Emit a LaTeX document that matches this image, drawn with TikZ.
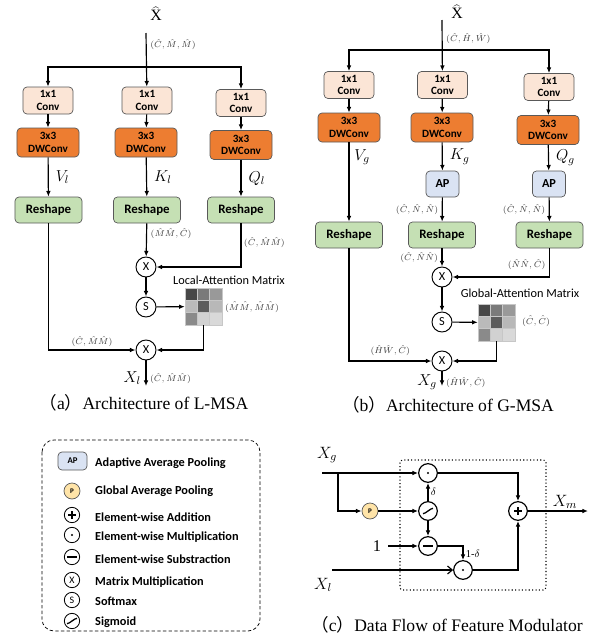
\RequirePackage{fix-cm}
\documentclass[tikz,border=0pt]{standalone}
\usepackage{fontspec}
\setmainfont{Liberation Serif}
\newfontfamily\boxfont{Carlito}
\newfontfamily\cjkfont{Noto Sans CJK SC}
\usetikzlibrary{arrows.meta}

\definecolor{convfill}{HTML}{FBE5D6}
\definecolor{dwfill}{HTML}{ED7D31}
\definecolor{reshapefill}{HTML}{C5E0B4}
\definecolor{apfill}{HTML}{DAE3F3}
\definecolor{poolfill}{HTML}{FFE4A8}
\definecolor{boxline}{HTML}{595959}
\definecolor{dimtext}{HTML}{3C3C3C}

\begin{document}
\begin{tikzpicture}[
    x=0.3mm, y=-0.3mm,
    >={Latex[length=1.7mm,width=1.4mm]},
    conv/.style={rectangle, rounded corners=1.2mm, draw=boxline, line width=0.6pt, fill=convfill, align=center, inner sep=0pt, minimum width=15mm, minimum height=8.1mm, font=\boxfont\bfseries\fontsize{9.5}{10.5}\selectfont},
    dwconv/.style={conv, fill=dwfill, minimum width=18.6mm, minimum height=8.7mm},
    reshape/.style={conv, fill=reshapefill, minimum width=20.1mm, minimum height=7.8mm, font=\boxfont\bfseries\fontsize{11}{12}\selectfont},
    apbox/.style={conv, fill=apfill, minimum width=9.9mm, minimum height=7.8mm, font=\boxfont\bfseries\fontsize{10.5}{12}\selectfont},
    op/.style={circle, draw, line width=0.8pt, fill=white, minimum size=6mm, inner sep=0pt, font=\boxfont\fontsize{10.5}{12}\selectfont},
    legop/.style={op, minimum size=4.6mm, line width=0.7pt, font=\boxfont\fontsize{8.5}{9}\selectfont},
    cop/.style={op, minimum size=5.6mm, line width=1pt},
    pool/.style={op, minimum size=4.8mm, line width=0.6pt, draw=boxline, fill=poolfill, font=\boxfont\bfseries\fontsize{6}{7}\selectfont},
    plusop/.style={path picture={\draw[black, line width=1pt] ([xshift=-1.2mm]path picture bounding box.center) -- ([xshift=1.2mm]path picture bounding box.center) ([yshift=-1.2mm]path picture bounding box.center) -- ([yshift=1.2mm]path picture bounding box.center);}},
    minusop/.style={path picture={\draw[black, line width=1pt] ([xshift=-1.5mm]path picture bounding box.center) -- ([xshift=1.5mm]path picture bounding box.center);}},
    dotop/.style={path picture={\fill[black] (path picture bounding box.center) circle (0.35mm);}},
    sigop/.style={path picture={\draw[black, line width=1.1pt] ([shift={(-1.5mm,-0.8mm)}]path picture bounding box.center) .. controls +(0.8mm,0) and +(-0.8mm,0) .. ([shift={(1.5mm,0.8mm)}]path picture bounding box.center);}},
    dim/.style={text=dimtext, font=\fontsize{7.4}{9}\selectfont, inner sep=1pt},
    qkv/.style={font=\fontsize{13.5}{15}\selectfont, inner sep=1pt},
    small/.style={font=\fontsize{9}{10}\selectfont, inner sep=1pt},
    mtitle/.style={font=\boxfont\fontsize{10.5}{12}\selectfont},
    legtext/.style={anchor=west, inner sep=0pt, font=\boxfont\bfseries\fontsize{10.5}{12}\selectfont},
    title/.style={font=\fontsize{15}{18}\selectfont},
    flow/.style={draw, line width=1pt, ->},
    wire/.style={draw, line width=1pt}
]
\useasboundingbox (0,0) rectangle (597,636);

% ---------- (a) L-MSA ----------
\node[font=\fontsize{13.5}{15}\selectfont] (xa) at (156,14) {$\widehat{\mathrm{X}}$};
\coordinate (ina) at (146,33);
\coordinate (sa) at (146,67);
\node[conv] (c1a) at (48,100.5) {1x1\\Conv};
\node[conv] (c2a) at (147,100.5) {1x1\\Conv};
\node[conv] (c3a) at (241,103) {1x1\\Conv};
\node[dwconv] (d1a) at (48,142.5) {3x3\\DWConv};
\node[dwconv] (d2a) at (146,142.5) {3x3\\DWConv};
\node[dwconv] (d3a) at (241,145) {3x3\\DWConv};
\node[reshape] (r1a) at (48.5,210) {Reshape};
\node[reshape] (r2a) at (147,210) {Reshape};
\node[reshape] (r3a) at (241,210) {Reshape};
\node[op] (mma) at (146,267) {X};
\node[op] (sma) at (146,307) {S};
\node[op] (oa) at (146,350) {X};
\coordinate (outa) at (146,386);
% attention matrix
\foreach \r/\c/\g in {0/0/72,0/1/52,0/2/40,1/0/27,1/1/64,1/2/28,2/0/46,2/1/18,2/2/15}
    \filldraw[fill=black!\g, draw=black!22, line width=0.4pt] (185+\c*12.33,288+\r*12.33) rectangle ++(12.33,12.33);
\node[minimum size=11.1mm, inner sep=0pt] (ga) at (203.5,306.5) {};
\node[mtitle] at (229,280) {Local-Attention Matrix};
\node[dim] at (252,307) {$(\hat{M}\hat{M},\hat{M}\hat{M})$};

\draw[flow] (ina) -- node[pos=0.22, right=2pt, dim] {$(\hat{C},\hat{M},\hat{M})$} (c2a);
\draw[flow] (sa) -| (c1a);
\draw[flow] (sa) -| (c3a);
\draw[flow] (c1a) -- (d1a);
\draw[flow] (c2a) -- (d2a);
\draw[flow] (c3a) -- (d3a);
\draw[flow] (d1a) -- node[right=5pt, qkv] {$V_l$} (r1a);
\draw[flow] (d2a) -- node[right=5pt, qkv] {$K_l$} (r2a);
\draw[flow] (d3a) -- node[right=5pt, qkv] {$Q_l$} (r3a);
\draw[flow] (r2a) -- node[pos=0.3, right=2pt, dim] {$(\hat{M}\hat{M},\hat{C})$} (mma);
\draw[flow] (r3a) |- node[pos=0.22, right=1pt, dim] {$(\hat{C},\hat{M}\hat{M})$} (mma);
\draw[flow] (mma) -- (sma);
\draw[flow] (sma) -- (ga);
\draw[flow] (r1a) |- node[pos=0.75, above=1pt, dim] {$(\hat{C},\hat{M}\hat{M})$} (oa);
\draw[flow] (ga) |- (oa);
\draw[flow] (oa) -- node[pos=0.7, left=3pt, qkv] {$X_l$} node[pos=0.7, right=2pt, dim] {$(\hat{C},\hat{M}\hat{M})$} (outa);
\node[title] at (144,403) {{\cjkfont （}a{\cjkfont ）}Architecture of L-MSA};

% ---------- (b) G-MSA ----------
\node[font=\fontsize{13.5}{15}\selectfont] (xb) at (457,12) {$\widehat{\mathrm{X}}$};
\coordinate (inb) at (442,20);
\coordinate (sb) at (442,50);
\node[conv] (c1b) at (349,85) {1x1\\Conv};
\node[conv] (c2b) at (442.5,85) {1x1\\Conv};
\node[conv] (c3b) at (549,87) {1x1\\Conv};
\node[dwconv] (d1b) at (349,127.5) {3x3\\DWConv};
\node[dwconv] (d2b) at (442,127.5) {3x3\\DWConv};
\node[dwconv] (d3b) at (548,130) {3x3\\DWConv};
\node[apbox] (ap2b) at (442.5,184) {AP};
\node[apbox] (ap3b) at (549,184) {AP};
\node[reshape] (r1b) at (349,235) {Reshape};
\node[reshape] (r2b) at (442,235) {Reshape};
\node[reshape] (r3b) at (549.5,235) {Reshape};
\node[op] (mmb) at (442,277) {X};
\node[op] (smb) at (442,322) {S};
\node[op] (ob) at (442,361) {X};
\coordinate (outb) at (442,386);
% attention matrix
\foreach \r/\c/\g in {0/0/72,0/1/52,0/2/40,1/0/27,1/1/64,1/2/28,2/0/46,2/1/18,2/2/15}
    \filldraw[fill=black!\g, draw=black!22, line width=0.4pt] (478+\c*12.33,304+\r*12.33) rectangle ++(12.33,12.33);
\node[minimum size=11.1mm, inner sep=0pt] (gb) at (496.5,322.5) {};
\node[mtitle] at (520,293) {Global-Attention Matrix};
\node[dim] at (536,321) {$(\hat{C},\hat{C})$};

\draw[flow] (inb) -- node[pos=0.37, right=2pt, dim] {$(\hat{C},\hat{H},\hat{W})$} (c2b);
\draw[flow] (sb) -| (c1b);
\draw[flow] (sb) -| (c3b);
\draw[flow] (c1b) -- (d1b);
\draw[flow] (c2b) -- (d2b);
\draw[flow] (c3b) -- (d3b);
\draw[flow] (d1b) -- (r1b);
\node[qkv] at (362,157) {$V_g$};
\draw[flow] (d2b) -- node[right=5pt, qkv] {$K_g$} (ap2b);
\draw[flow] (d3b) -- node[right=5pt, qkv] {$Q_g$} (ap3b);
\draw[flow] (ap2b) -- node[left=2pt, dim] {$(\hat{C},\hat{N},\hat{N})$} (r2b);
\draw[flow] (ap3b) -- node[left=2pt, dim] {$(\hat{C},\hat{N},\hat{N})$} (r3b);
\draw[flow] (r2b) -- node[left=2pt, dim] {$(\hat{C},\hat{N}\hat{N})$} (mmb);
\draw[flow] (r3b) |- node[pos=0.28, left=2pt, dim] {$(\hat{N}\hat{N},\hat{C})$} (mmb);
\draw[flow] (mmb) -- (smb);
\draw[flow] (smb) -- (gb);
\draw[flow] (r1b) |- node[pos=0.75, above=3pt, dim] {$(\hat{H}\hat{W},\hat{C})$} (ob);
\draw[flow] (gb) |- (ob);
\draw[flow] (ob) -- node[pos=0.75, left=3pt, qkv] {$X_g$} node[pos=0.75, right=2pt, dim] {$(\hat{H}\hat{W},\hat{C})$} (outb);
\node[title] at (448,405) {{\cjkfont （}b{\cjkfont ）}Architecture of G-MSA};

% ---------- legend ----------
\draw[dash pattern=on 1mm off 0.7mm, rounded corners=3.6mm, line width=0.6pt] (42,440) rectangle (260,631);
\node[apbox, minimum width=8.7mm, minimum height=5.4mm, font=\boxfont\bfseries\fontsize{7.5}{8}\selectfont] (lap) at (72.5,461) {AP};
\node[pool] (lpool) at (72,491) {P};
\node[legop, plusop] (lplus) at (72,515) {};
\node[legop, dotop] (ldot) at (72,535) {};
\node[legop, minusop] (lminus) at (72,557) {};
\node[legop] (lmat) at (72,580) {X};
\node[legop] (lsoft) at (72,600) {S};
\node[legop, sigop] (lsig) at (72,621) {};
\node[legtext] at (95,463) {Adaptive Average Pooling};
\node[legtext] at (95,491) {Global Average Pooling};
\node[legtext] at (95,517) {Element-wise Addition};
\node[legtext] at (95,537) {Element-wise Multiplication};
\node[legtext] at (95,559) {Element-wise Substraction};
\node[legtext] at (95,582) {Matrix Multiplication};
\node[legtext] at (95,601) {Softmax};
\node[legtext] at (95,622) {Sigmoid};

% ---------- (c) feature modulator ----------
\draw[dotted, line width=0.9pt, rounded corners=0.8mm] (400,460) rectangle (546,590);
\node[qkv, font=\fontsize{14}{16}\selectfont] (xg) at (327,455) {$X_g$};
\node[qkv, font=\fontsize{14}{16}\selectfont] (xl) at (323,585) {$X_l$};
\node[qkv, font=\fontsize{14}{16}\selectfont] (one) at (377,546) {1};
\node[qkv, font=\fontsize{14}{16}\selectfont] (xm) at (565,502) {$X_m$};
\coordinate (xgin) at (322,473);
\coordinate (xsplit) at (338,473);
\coordinate (xlin) at (332,570);
\coordinate (onein) at (388,546);
\coordinate (xmout) at (588,511);
\node[cop, dotop] (dtop) at (428,473) {};
\node[cop, sigop] (sig) at (428,511) {};
\node[cop, minusop] (minus) at (428,546) {};
\node[cop, dotop] (dbot) at (463,570) {};
\node[cop, plusop] (plus) at (518,511) {};
\node[pool] (pc) at (370,511) {P};

\draw[flow] (xgin) -- (dtop);
\draw[flow] (xsplit) |- (pc);
\draw[flow] (pc) -- (sig);
\draw[flow] (sig) -- node[right=1pt, small] {$\delta$} (dtop);
\draw[flow] (sig) -- (minus);
\draw[flow] (onein) -- (minus);
\draw[flow] (minus) -| node[pos=0.78, right=1pt, small] {1-$\delta$} (dbot);
\draw[wire, -{Straight Barb[length=1.4mm,width=2.4mm]}] (xlin) -- (dbot);
\draw[flow] (dtop) -| (plus);
\draw[flow] (dbot) -| (plus);
\draw[flow] (plus) -- (xmout);
\node[title] at (447,625) {{\cjkfont （}c{\cjkfont ）}Data Flow of Feature Modulator};
\end{tikzpicture}
\end{document}
